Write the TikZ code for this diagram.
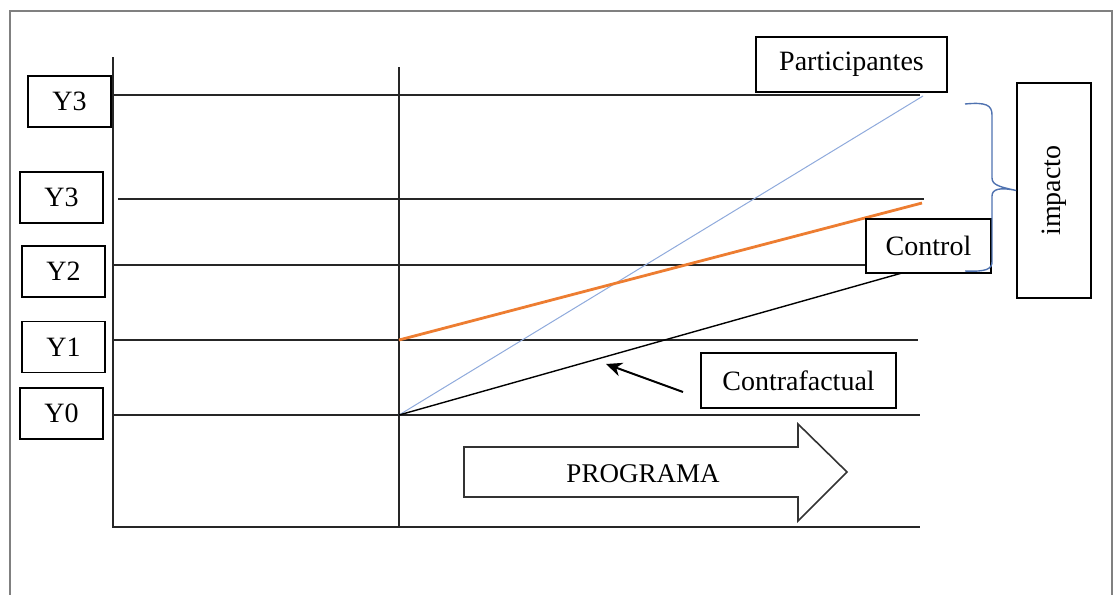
\documentclass[tikz,border=0pt]{standalone}
\usepackage{fontspec}
\setmainfont{Liberation Serif}
\usetikzlibrary{arrows.meta}
\definecolor{orangeline}{HTML}{ED7D31}
\definecolor{blueline}{HTML}{8FAADC}
\definecolor{bracecol}{HTML}{4F72B0}
\begin{document}
\begin{tikzpicture}[x=0.5pt, y=-0.5pt,
    box/.style={draw, line width=0.8pt, fill=white, inner sep=0pt,
        font=\fontsize{14}{16}\selectfont},
    ybox/.style={box, minimum width=41.5pt, minimum height=25.5pt},
    axisline/.style={line width=0.8pt, black!85}]
    \useasboundingbox (0, 0) rectangle (1118, 594);
    %\draw[lightgray] (0, 0) grid (1118, 594);
    \draw[gray, line width=1pt] (10, 600) -- (10, 11) -- (1112, 11) -- (1112, 600);
    % axes
    \coordinate (axtop) at (113, 57);
    \coordinate (axorig) at (113, 527);
    \coordinate (axend) at (920, 527);
    \coordinate (prtop) at (399, 67);
    \coordinate (prbot) at (399, 528);
    \draw[axisline] (axtop) -- (axorig) -- (axend);
    \draw[axisline] (prtop) -- (prbot);
    \foreach \yy/\xa/\xe in {95/113/920, 199/118/924, 265/113/866, 340/113/918, 415/113/920}
        \draw[axisline] (\xa, \yy) -- (\xe, \yy);
    % trajectories
    \coordinate (start0) at (399, 415);
    \coordinate (start1) at (399, 340);
    \coordinate (endpart) at (923, 96);
    \coordinate (endctrl) at (922, 203);
    \coordinate (endcf) at (902, 273);
    \draw[blueline, line width=0.5pt] (start0) -- (endpart);
    \draw[orangeline, line width=1.4pt] (start1) -- (endctrl);
    \draw[line width=0.7pt] (start0) -- (endcf);
    % programa arrow
    \draw[line width=0.8pt, black!80] (464, 447) -- (798, 447) -- (798, 424) -- (847, 472)
        -- (798, 521) -- (798, 497) -- (464, 497) -- cycle;
    \node[font=\fontsize{13.5}{16}\selectfont] (prog) at (643, 474) {PROGRAMA};
    % labels
    \node[ybox] (y3a) at (69.5, 101.5) {Y3};
    \node[ybox] (y3b) at (61.5, 197.5) {Y3};
    \node[ybox] (y2) at (63.5, 271.5) {Y2};
    \node[ybox] (y1) at (63.5, 347) {Y1};
    \node[ybox] (y0) at (61.5, 413.5) {Y0};
    \node[box, minimum width=95.5pt, minimum height=27.5pt] (part) at (851.5, 64.5) {Participantes};
    \node[box, minimum width=62.5pt, minimum height=27pt] (ctrl) at (928.5, 246) {Control};
    \node[box, minimum width=97.5pt, minimum height=27.5pt] (contra) at (798.5, 380.5) {Contrafactual};
    \node[box, rotate=90, minimum width=107.5pt, minimum height=37pt] (imp) at (1054, 190.5) {impacto};
    % pointer
    \coordinate (cfa) at (683, 392);
    \coordinate (cfb) at (606, 364);
    \draw[-{Stealth[length=8pt, width=7pt]}, line width=1pt] (cfa) -- (cfb);
    % brace
    \draw[bracecol, line width=0.7pt] (965, 104) .. controls (986, 102) and (992, 105) .. (992, 115)
        -- (992, 178) .. controls (992, 185) and (1000, 187) .. (imp.north)
        .. controls (1000, 187) and (992, 189) .. (992, 196)
        -- (992, 262) .. controls (992, 269) and (986, 272) .. (965, 271);
\end{tikzpicture}
\end{document}
